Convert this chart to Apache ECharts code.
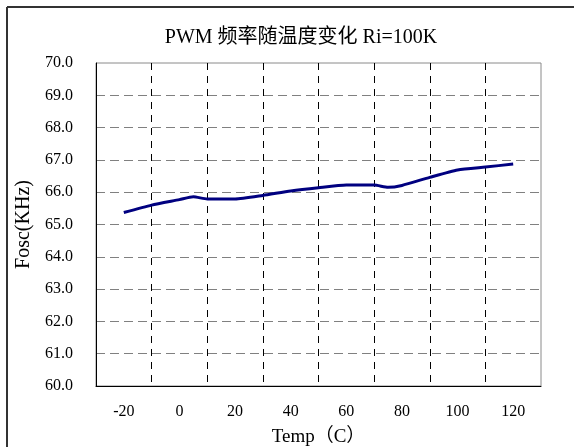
<!DOCTYPE html>
<html>
<head>
<meta charset="utf-8">
<script src="https://cdn.jsdelivr.net/npm/echarts@6/dist/echarts.min.js"></script>
<style>
html,body{margin:0;padding:0;background:#fff;}
#chart{width:579px;height:447px;}
</style>
</head>
<body>
<div id="chart"></div>
<script>
// Data
const tickLabels = ['-20', '0', '20', '40', '60', '80', '100', '120'];
const temps = [-20, -10, 0, 5, 10, 20, 30, 40, 50, 60, 70, 75, 80, 90, 100, 110, 120];
const fosc  = [65.37, 65.60, 65.77, 65.86, 65.79, 65.79, 65.90, 66.04, 66.14, 66.22, 66.22, 66.15, 66.21, 66.46, 66.69, 66.78, 66.87];

const FONT = "'Liberation Serif', 'Noto Sans CJK SC', serif";
const chart = echarts.init(document.getElementById('chart'), null, {renderer: 'canvas'});

const points = temps.map((t, i) => [t, fosc[i]]);

chart.setOption({
  animation: false,
  backgroundColor: '#fff',
  title: {
    text: 'PWM 频率随温度变化 Ri=100K',
    left: 296,
    top: 23,
    textAlign: 'center',
    textStyle: {fontFamily: FONT, fontSize: 20, fontWeight: 'normal', color: '#000'}
  },
  graphic: [
    {type: 'line', shape: {x1: 7, y1: 7, x2: 7, y2: 447}, style: {stroke: '#333', lineWidth: 2}},
    {type: 'line', shape: {x1: 7, y1: 7, x2: 574, y2: 7}, style: {stroke: '#333', lineWidth: 2}}
  ],
  grid: {
    left: 96, right: 38, top: 63, bottom: 61,
    outerBoundsMode: 'none',
    containLabel: false,
    show: true, borderColor: '#8a8a8a', borderWidth: 1, backgroundColor: '#fff'
  },
  xAxis: [
    {
      type: 'category',
      data: tickLabels,
      boundaryGap: true,
      axisLine: {show: true, onZero: false, lineStyle: {color: '#000', width: 1}},
      axisTick: {show: false},
      axisLabel: {fontFamily: FONT, fontSize: 16, color: '#000', margin: 18},
      splitLine: {show: true, showMinLine: false, showMaxLine: false,
                  lineStyle: {color: '#000', type: [7, 6], width: 1}},
      name: 'Temp（C）',
      nameLocation: 'middle',
      nameGap: 42,
      nameTextStyle: {fontFamily: FONT, fontSize: 19, color: '#000'}
    },
    {
      type: 'value',
      min: -30, max: 130,
      show: false
    }
  ],
  yAxis: {
    type: 'value',
    min: 60, max: 70, interval: 1,
    axisLine: {show: true, onZero: false, lineStyle: {color: '#000', width: 1}},
    axisTick: {show: false},
    axisLabel: {fontFamily: FONT, fontSize: 16, color: '#000', margin: 23,
                formatter: v => v.toFixed(1)},
    splitLine: {show: true, showMinLine: false, showMaxLine: false,
                lineStyle: {color: '#808080', type: [9, 5], width: 1}},
    name: 'Fosc(KHz)',
    nameLocation: 'middle',
    nameGap: 51,
    nameRotate: 90,
    nameTextStyle: {fontFamily: FONT, fontSize: 20, color: '#000'}
  },
  series: [{
    type: 'line',
    xAxisIndex: 1,
    data: points,
    smooth: 0.2,
    symbol: 'none',
    lineStyle: {color: '#000080', width: 3}
  }]
});
</script>
</body>
</html>
